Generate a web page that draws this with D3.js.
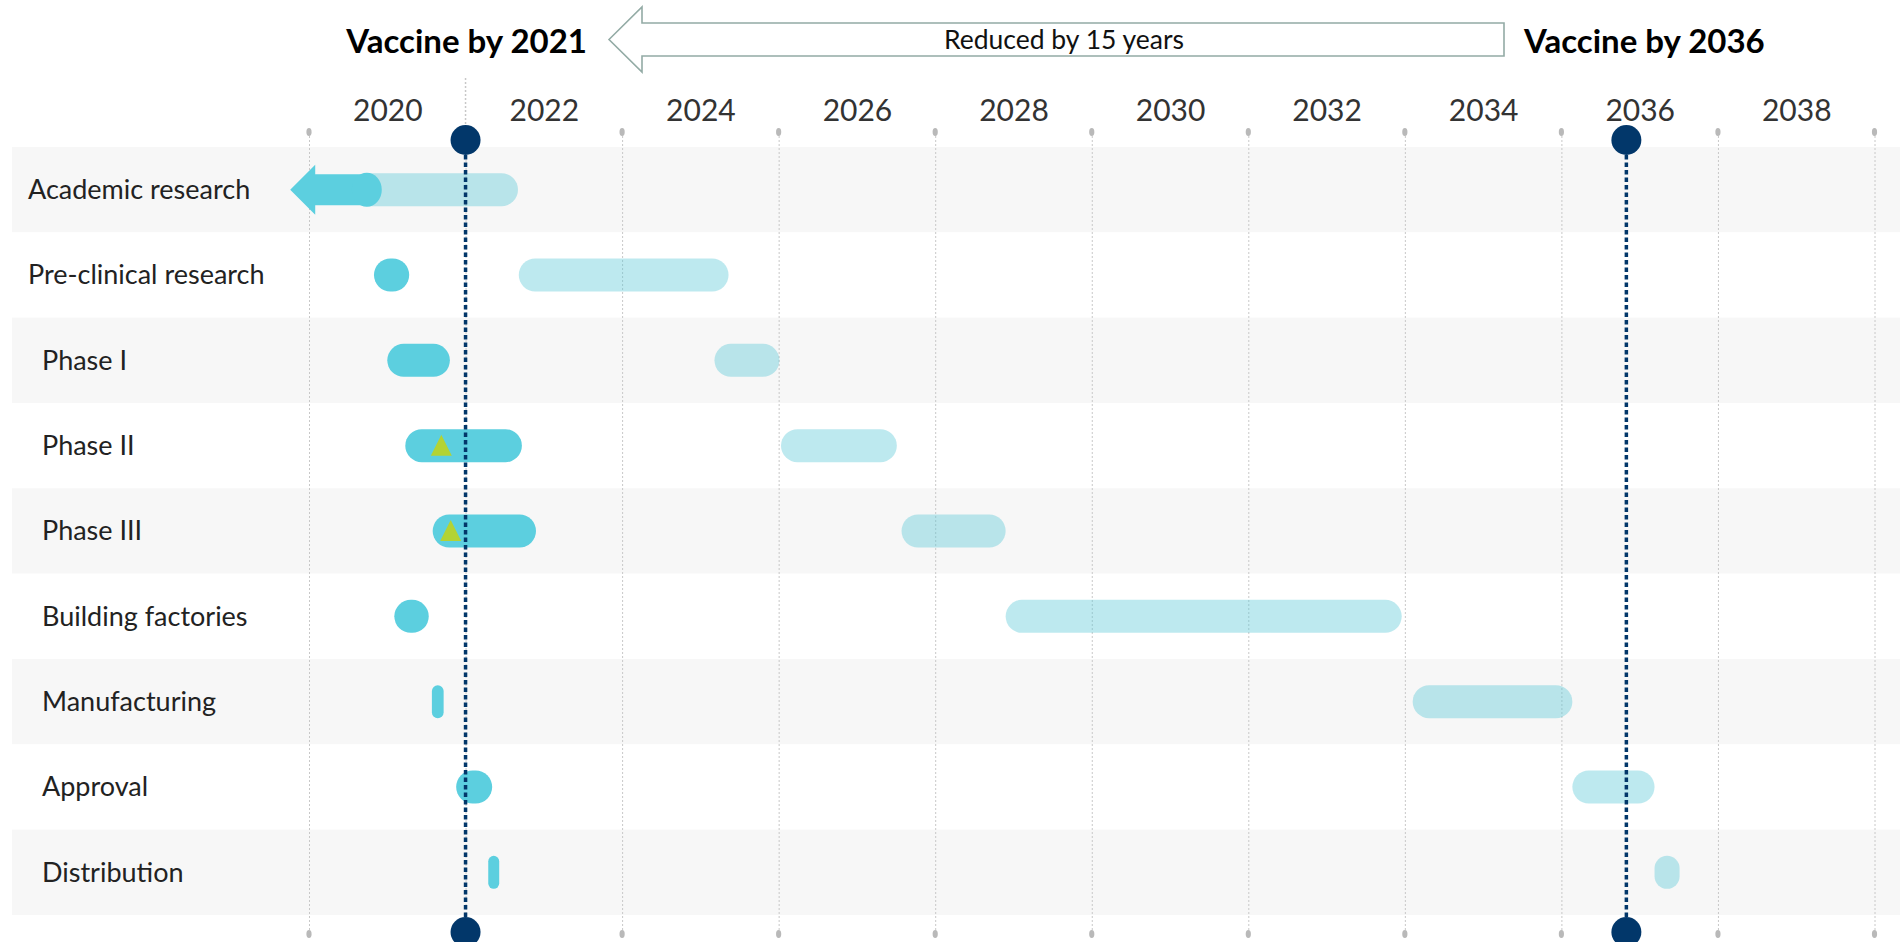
<!DOCTYPE html>
<html>
<head>
<meta charset="utf-8">
<script src="https://cdn.jsdelivr.net/npm/d3@7"></script>
<style>
  html, body { margin: 0; padding: 0; background: #fff; overflow: hidden; }
  svg { display: block; }
</style>
</head>
<body>
<svg id="chart" width="1900" height="942"></svg>
<script>
// Vaccine development stages: accelerated (2020) vs. traditional timeline
const phases = [
  "Academic research", "Pre-clinical research", "Phase I", "Phase II", "Phase III",
  "Building factories", "Manufacturing", "Approval", "Distribution"
];
const acceleratedStart = [2018.76, 2019.83, 2020.00, 2020.23, 2020.58, 2020.09, 2020.57, 2020.88, 2021.29];
const acceleratedEnd   = [2019.93, 2020.28, 2020.80, 2021.72, 2021.90, 2020.53, 2020.72, 2021.34, 2021.43];
const traditionalStart = [2019.55, 2021.68, 2024.18, 2025.03, 2026.57, 2027.90, 2033.10, 2035.14, 2036.19];
const traditionalEnd   = [2021.67, 2024.36, 2025.01, 2026.51, 2027.90, 2032.96, 2035.14, 2036.19, 2036.51];
const milestonePhases = ["Phase II", "Phase III"];
const milestoneYears = [2020.69, 2020.81];
const vaccineYears = [2021, 2035.83];
const vaccineTitles = ["Vaccine by 2021", "Vaccine by 2036"];
const arrowLabel = "Reduced by 15 years";
const yearLabels = [2020, 2022, 2024, 2026, 2028, 2030, 2032, 2034, 2036, 2038];
const gridYears = [2019, 2021, 2023, 2025, 2027, 2029, 2031, 2033, 2035, 2037, 2039];

const W = 1900, H = 942;
const FONT = "Lato, 'Open Sans', sans-serif";
const DARK = "#5ccfdf";
const NAVY = "#02376a";
const svg = d3.select("#chart");

const x = d3.scaleLinear().domain([2019, 2039]).range([309, 1874.5]);
const y = d3.scaleBand().domain(phases).range([147, 915]);
const rowMid = p => y(p) + y.bandwidth() / 2;
const barH = 33;
const gridTop = 132, gridBottom = 934;

// alternating row bands
svg.append("g").selectAll("rect").data(phases).join("rect")
  .attr("x", 12).attr("y", d => y(d))
  .attr("width", W - 12).attr("height", y.bandwidth())
  .attr("fill", (d, i) => i % 2 === 0 ? "#f7f7f7" : "#ffffff");

// dotted year gridlines
const grid = svg.append("g").attr("transform", `translate(0,${gridTop})`)
  .call(d3.axisBottom(x).tickValues(gridYears).tickSize(gridBottom - gridTop).tickFormat(""));
grid.select(".domain").remove();
grid.selectAll(".tick line")
  .attr("stroke", "#c8c8c8").attr("stroke-width", 1).attr("stroke-dasharray", "2,2");

// 2021 gridline continues up to the year labels
svg.append("line")
  .attr("x1", x(vaccineYears[0])).attr("x2", x(vaccineYears[0]))
  .attr("y1", 78).attr("y2", gridTop)
  .attr("stroke", "#c8c8c8").attr("stroke-width", 1.5).attr("stroke-dasharray", "2,2");

// small end caps on the gridlines
const caps = svg.append("g");
[gridTop, gridBottom].forEach(cy => {
  caps.selectAll(null).data(gridYears).join("ellipse")
    .attr("cx", d => x(d)).attr("cy", cy)
    .attr("rx", 2.6).attr("ry", 4)
    .attr("fill", "#b9b9b9");
});

// year labels
const years = svg.append("g").attr("transform", "translate(0,121)")
  .call(d3.axisTop(x).tickValues(yearLabels).tickSize(0).tickPadding(0).tickFormat(d3.format("d")));
years.select(".domain").remove();
years.selectAll("text")
  .attr("font-family", FONT).attr("font-size", 30).attr("fill", "#333");

// pill helper
function pill(sel, starts, ends) {
  sel.attr("x", (d, i) => x(starts[i]))
    .attr("width", (d, i) => x(ends[i]) - x(starts[i]))
    .attr("y", d => rowMid(d) - barH / 2)
    .attr("height", barH)
    .attr("rx", (d, i) => Math.min(x(ends[i]) - x(starts[i]), barH) / 2)
    .attr("ry", (d, i) => Math.min(x(ends[i]) - x(starts[i]), barH) / 2);
}

// traditional timeline (light)
svg.append("g").selectAll("rect").data(phases).join("rect")
  .call(pill, traditionalStart, traditionalEnd)
  .attr("fill", "#52c6d6").attr("fill-opacity", 0.38);

// accelerated timeline (dark); the first row is an arrow pointing back in time
svg.append("g").selectAll("rect").data(phases.slice(1)).join("rect")
  .call(pill, acceleratedStart.slice(1), acceleratedEnd.slice(1))
  .attr("fill", DARK);

const a0 = phases[0], cy0 = rowMid(a0);
const tip = x(acceleratedStart[0]), tail = x(acceleratedEnd[0]);
const headL = 25, headHalf = 25, shaftHalf = 15.5, capR = 15;
svg.append("path")
  .attr("d", `M${tip},${cy0} L${tip + headL},${cy0 - headHalf} L${tip + headL},${cy0 - shaftHalf}
              L${tail - capR},${cy0 - shaftHalf} L${tail - capR},${cy0 + shaftHalf}
              L${tip + headL},${cy0 + shaftHalf} L${tip + headL},${cy0 + headHalf} Z`)
  .attr("fill", DARK);
svg.append("ellipse")
  .attr("cx", tail - capR).attr("cy", cy0).attr("rx", capR).attr("ry", barH / 2 + 0.5)
  .attr("fill", DARK);

// milestone triangles
svg.append("g").selectAll("path").data(milestonePhases).join("path")
  .attr("d", (d, i) => {
    const cx = x(milestoneYears[i]), cy = rowMid(d);
    return `M${cx},${cy - 11} L${cx + 10.5},${cy + 10} L${cx - 10.5},${cy + 10} Z`;
  })
  .attr("fill", "#b3d334");

// vaccine date markers
const markers = svg.append("g").selectAll("g").data(vaccineYears).join("g");
markers.append("line")
  .attr("x1", d => x(d)).attr("x2", d => x(d))
  .attr("y1", 155).attr("y2", 917)
  .attr("stroke", NAVY).attr("stroke-width", 3.5).attr("stroke-dasharray", "4.5,3");
markers.append("circle").attr("cx", d => x(d)).attr("cy", 140).attr("r", 15).attr("fill", NAVY);
markers.append("circle").attr("cx", d => x(d)).attr("cy", 932).attr("r", 15).attr("fill", NAVY);

// row labels
svg.append("g").selectAll("text").data(phases).join("text")
  .attr("x", (d, i) => i < 2 ? 28 : 42)
  .attr("y", d => rowMid(d))
  .attr("dy", "0.35em")
  .attr("font-family", FONT).attr("font-size", 27).attr("fill", "#222")
  .text(d => d);

// header: block arrow between the two vaccine dates
const arrowTip = 609, arrowHead = 642, arrowEnd = 1504;
const arrowCy = 39.5, arrowHeadHalf = 32.5, arrowShaftHalf = 16.5;
svg.append("path")
  .attr("d", `M${arrowTip},${arrowCy} L${arrowHead},${arrowCy - arrowHeadHalf} L${arrowHead},${arrowCy - arrowShaftHalf}
              L${arrowEnd},${arrowCy - arrowShaftHalf} L${arrowEnd},${arrowCy + arrowShaftHalf}
              L${arrowHead},${arrowCy + arrowShaftHalf} L${arrowHead},${arrowCy + arrowHeadHalf} Z`)
  .attr("fill", "#fff").attr("stroke", "#93aba5").attr("stroke-width", 1.6);
svg.append("text")
  .attr("x", 1064).attr("y", 49)
  .attr("text-anchor", "middle")
  .attr("font-family", FONT).attr("font-size", 26.5).attr("fill", "#111")
  .text(arrowLabel);

svg.append("text")
  .attr("x", 587).attr("y", 53).attr("text-anchor", "end")
  .attr("font-family", FONT).attr("font-weight", 700).attr("font-size", 33).attr("fill", "#000")
  .text(vaccineTitles[0]);
svg.append("text")
  .attr("x", 1524).attr("y", 53).attr("text-anchor", "start")
  .attr("font-family", FONT).attr("font-weight", 700).attr("font-size", 33).attr("fill", "#000")
  .text(vaccineTitles[1]);
</script>
</body>
</html>
